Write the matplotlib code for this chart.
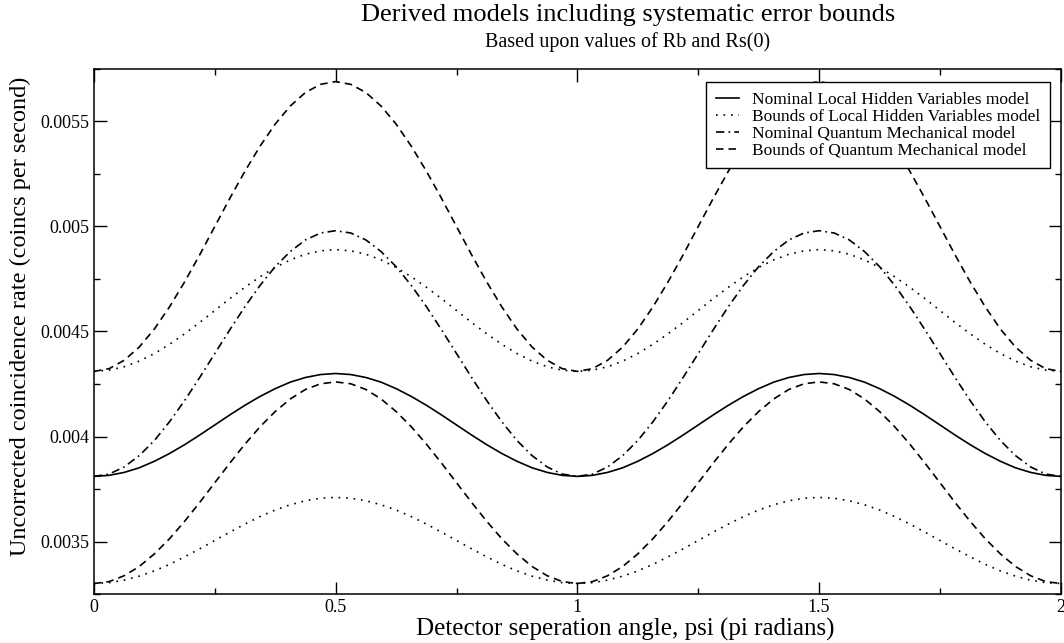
import numpy as np
import matplotlib
matplotlib.use('Agg')
import matplotlib.pyplot as plt

plt.rcParams['font.family'] = ['Liberation Serif', 'DejaVu Serif']

# detector separation angle (pi radians), read every 1/32
psi = [i / 32 for i in range(65)]

lhv_nominal = [
    0.003810, 0.003815, 0.003829, 0.003851, 0.003882, 0.003919, 0.003961, 0.004007, 0.004055,
    0.004103, 0.004149, 0.004191, 0.004228, 0.004259, 0.004281, 0.004295, 0.004300,
    0.004295, 0.004281, 0.004259, 0.004228, 0.004191, 0.004149, 0.004103, 0.004055,
    0.004007, 0.003961, 0.003919, 0.003882, 0.003851, 0.003829, 0.003815, 0.003810,
    0.003815, 0.003829, 0.003851, 0.003882, 0.003919, 0.003961, 0.004007, 0.004055,
    0.004103, 0.004149, 0.004191, 0.004228, 0.004259, 0.004281, 0.004295, 0.004300,
    0.004295, 0.004281, 0.004259, 0.004228, 0.004191, 0.004149, 0.004103, 0.004055,
    0.004007, 0.003961, 0.003919, 0.003882, 0.003851, 0.003829, 0.003815, 0.003810]
lhv_upper = [
    0.004310, 0.004316, 0.004332, 0.004359, 0.004395, 0.004439, 0.004489, 0.004543, 0.004600,
    0.004657, 0.004711, 0.004761, 0.004805, 0.004841, 0.004868, 0.004884, 0.004890,
    0.004884, 0.004868, 0.004841, 0.004805, 0.004761, 0.004711, 0.004657, 0.004600,
    0.004543, 0.004489, 0.004439, 0.004395, 0.004359, 0.004332, 0.004316, 0.004310,
    0.004316, 0.004332, 0.004359, 0.004395, 0.004439, 0.004489, 0.004543, 0.004600,
    0.004657, 0.004711, 0.004761, 0.004805, 0.004841, 0.004868, 0.004884, 0.004890,
    0.004884, 0.004868, 0.004841, 0.004805, 0.004761, 0.004711, 0.004657, 0.004600,
    0.004543, 0.004489, 0.004439, 0.004395, 0.004359, 0.004332, 0.004316, 0.004310]
lhv_lower = [
    0.003300, 0.003304, 0.003316, 0.003335, 0.003360, 0.003391, 0.003427, 0.003465, 0.003505,
    0.003545, 0.003583, 0.003619, 0.003650, 0.003675, 0.003694, 0.003706, 0.003710,
    0.003706, 0.003694, 0.003675, 0.003650, 0.003619, 0.003583, 0.003545, 0.003505,
    0.003465, 0.003427, 0.003391, 0.003360, 0.003335, 0.003316, 0.003304, 0.003300,
    0.003304, 0.003316, 0.003335, 0.003360, 0.003391, 0.003427, 0.003465, 0.003505,
    0.003545, 0.003583, 0.003619, 0.003650, 0.003675, 0.003694, 0.003706, 0.003710,
    0.003706, 0.003694, 0.003675, 0.003650, 0.003619, 0.003583, 0.003545, 0.003505,
    0.003465, 0.003427, 0.003391, 0.003360, 0.003335, 0.003316, 0.003304, 0.003300]
qm_nominal = [
    0.003810, 0.003821, 0.003855, 0.003909, 0.003981, 0.004070, 0.004171, 0.004281, 0.004395,
    0.004509, 0.004619, 0.004720, 0.004809, 0.004881, 0.004936, 0.004969, 0.004980,
    0.004969, 0.004936, 0.004881, 0.004809, 0.004720, 0.004619, 0.004509, 0.004395,
    0.004281, 0.004171, 0.004070, 0.003981, 0.003909, 0.003855, 0.003821, 0.003810,
    0.003821, 0.003855, 0.003909, 0.003981, 0.004070, 0.004171, 0.004281, 0.004395,
    0.004509, 0.004619, 0.004720, 0.004809, 0.004881, 0.004936, 0.004969, 0.004980,
    0.004969, 0.004936, 0.004881, 0.004809, 0.004720, 0.004619, 0.004509, 0.004395,
    0.004281, 0.004171, 0.004070, 0.003981, 0.003909, 0.003855, 0.003821, 0.003810]
qm_upper = [
    0.004310, 0.004323, 0.004363, 0.004426, 0.004512, 0.004617, 0.004736, 0.004865, 0.005000,
    0.005135, 0.005264, 0.005383, 0.005488, 0.005574, 0.005638, 0.005677, 0.005690,
    0.005677, 0.005638, 0.005574, 0.005488, 0.005383, 0.005264, 0.005135, 0.005000,
    0.004865, 0.004736, 0.004617, 0.004512, 0.004426, 0.004363, 0.004323, 0.004310,
    0.004323, 0.004363, 0.004426, 0.004512, 0.004617, 0.004736, 0.004865, 0.005000,
    0.005135, 0.005264, 0.005383, 0.005488, 0.005574, 0.005638, 0.005677, 0.005690,
    0.005677, 0.005638, 0.005574, 0.005488, 0.005383, 0.005264, 0.005135, 0.005000,
    0.004865, 0.004736, 0.004617, 0.004512, 0.004426, 0.004363, 0.004323, 0.004310]
qm_lower = [
    0.003300, 0.003309, 0.003337, 0.003381, 0.003441, 0.003513, 0.003596, 0.003686, 0.003780,
    0.003874, 0.003964, 0.004047, 0.004119, 0.004179, 0.004224, 0.004251, 0.004260,
    0.004251, 0.004224, 0.004179, 0.004119, 0.004047, 0.003964, 0.003874, 0.003780,
    0.003686, 0.003596, 0.003513, 0.003441, 0.003381, 0.003337, 0.003309, 0.003300,
    0.003309, 0.003337, 0.003381, 0.003441, 0.003513, 0.003596, 0.003686, 0.003780,
    0.003874, 0.003964, 0.004047, 0.004119, 0.004179, 0.004224, 0.004251, 0.004260,
    0.004251, 0.004224, 0.004179, 0.004119, 0.004047, 0.003964, 0.003874, 0.003780,
    0.003686, 0.003596, 0.003513, 0.003441, 0.003381, 0.003337, 0.003309, 0.003300]

dotted = (0, (1, 3.5))
dashdot = (0, (5, 2.5, 1, 2.5))
dashed = (0, (4.5, 3))

fig = plt.figure(figsize=(10.64, 6.43), dpi=100)
ax = fig.add_axes([0.0883, 0.0762, 0.9087, 0.8165])

lw = 1.2
ax.plot(psi, lhv_nominal, color='black', lw=lw, ls='-', label='Nominal Local Hidden Variables model')
ax.plot(psi, lhv_upper, color='black', lw=lw, ls=dotted, label='Bounds of Local Hidden Variables model')
ax.plot(psi, lhv_lower, color='black', lw=lw, ls=dotted)
ax.plot(psi, qm_nominal, color='black', lw=lw, ls=dashdot, label='Nominal Quantum Mechanical model')
ax.plot(psi, qm_upper, color='black', lw=lw, ls=dashed, label='Bounds of Quantum Mechanical model')
ax.plot(psi, qm_lower, color='black', lw=lw, ls=dashed)

ax.set_xlim(0, 2)
ax.set_ylim(0.00325, 0.00575)
ax.set_xticks([0, 0.5, 1, 1.5, 2])
ax.set_xticklabels(['0', '0.5', '1', '1.5', '2'])
ax.set_xticks(np.arange(0, 2.01, 0.25), minor=True)
ax.set_yticks([0.0035, 0.004, 0.0045, 0.005, 0.0055])
ax.set_yticklabels(['0.0035', '0.004', '0.0045', '0.005', '0.0055'])
ax.set_yticks(np.arange(0.00325, 0.00576, 0.00025), minor=True)
ax.tick_params(which='both', direction='in', top=True, right=True, width=1, labelsize=13)
ax.tick_params(which='major', length=9)
ax.tick_params(which='minor', length=4.5)
for s in ax.spines.values():
    s.set_linewidth(1.1)

ax.set_xlabel('Detector seperation angle, psi (pi radians)', fontsize=18)
ax.xaxis.set_label_coords(0.549, -0.046)
ax.set_ylabel('Uncorrected coincidence rate (coincs per second)', fontsize=17.5)
ax.yaxis.set_label_coords(-0.065, 0.528)

fig.text(0.59, 0.977, 'Derived models including systematic error bounds', ha='center', va='center', fontsize=19)
fig.text(0.59, 0.935, 'Based upon values of Rb and Rs(0)', ha='center', va='center', fontsize=14.5)

leg = ax.legend(loc='upper right', bbox_to_anchor=(0.9886, 0.975), borderaxespad=0, fontsize=12.5,
                frameon=True, fancybox=False, edgecolor='black', handlelength=1.35,
                labelspacing=0.05, borderpad=0.55, handletextpad=0.75)
leg.get_frame().set_linewidth(1)
leg.get_frame().set_alpha(1)

fig.savefig('out.png', dpi=100)
